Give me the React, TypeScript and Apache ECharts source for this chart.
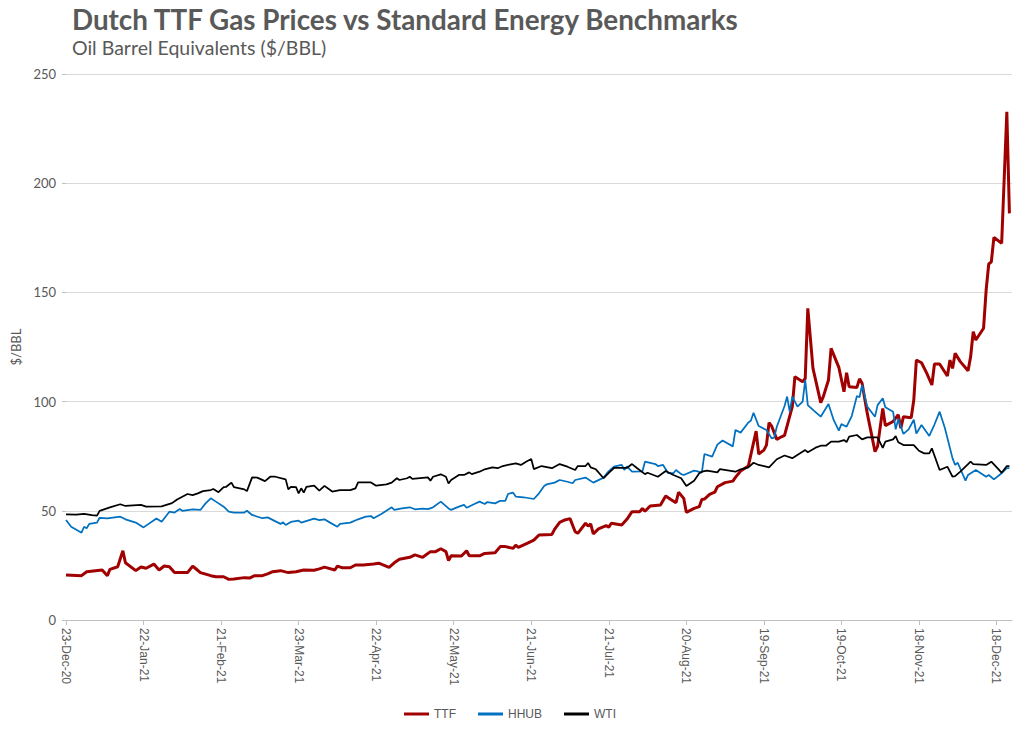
import React, { useEffect, useRef } from "react";
import * as echarts from "echarts";

// Day offsets from 23-Dec-2020, value in $/BBL
const ttf: [number, number][] = [
  [0,20.6],[6,20.3],[8,22.1],[14,22.9],[16,20.3],[17,23.2],[20,24.4],[22,31.7],[23,26.2],[27,22.6],
  [29,24.3],[31,23.7],[34,25.6],[36,22.9],[38,24.7],[40,24.4],[42,21.7],[47,21.7],[49,24.7],[50,23.7],
  [52,21.7],[56,20.3],[58,19.8],[61,19.8],[63,18.6],[65,18.8],[69,19.4],[71,19.2],[73,20.3],[76,20.3],
  [78,21.1],[80,22.1],[83,22.6],[86,21.7],[89,22.1],[92,22.9],[96,22.8],[98,23.4],[100,24.2],[104,22.9],
  [105,24.7],[107,23.9],[110,23.9],[112,25.2],[115,25.2],[119,25.6],[121,26.0],[125,24.1],[127,26.2],[129,27.8],
  [133,28.7],[135,29.8],[138,28.7],[141,31.3],[143,31.3],[145,32.6],[147,31.3],[148,27.2],[149,29.4],[153,29.3],
  [155,31.7],[156,29.4],[160,29.4],[162,30.5],[166,30.8],[168,33.6],[170,33.6],[173,32.8],[174,34.3],[175,33.3],
  [179,35.4],[181,36.6],[183,38.9],[188,39.2],[189,41.5],[191,44.7],[193,45.8],[195,46.4],[197,40.4],[198,39.7],
  [201,44.3],[202,43.0],[203,44.0],[204,39.4],[206,41.7],[209,43.2],[210,42.5],[211,44.3],[215,43.5],[217,46.1],
  [219,49.6],[222,49.6],[223,51.1],[224,49.8],[226,52.2],[230,52.7],[232,56.8],[234,55.2],[236,53.7],[237,58.5],
  [239,55.7],[240,49.3],[243,51.1],[245,51.9],[246,55.2],[247,55.4],[249,57.5],[251,58.5],[252,61.0],[255,62.9],
  [258,63.6],[259,65.3],[261,68.2],[264,70.5],[267,86.5],[268,76.0],[270,77.8],[271,80.1],[272,90.4],[273,88.8],
  [275,82.7],[277,84.0],[278,84.5],[281,97.7],[282,111.4],[285,109.1],[286,110.6],[287,142.7],[289,115.2],[292,99.5],
  [293,102.3],[295,109.9],[296,124.4],[299,115.7],[301,104.5],[302,113.2],[303,106.8],[306,106.5],[307,110.4],[308,108.4],
  [310,94.6],[313,77.1],[314,79.5],[316,96.9],[317,89.0],[320,90.9],[322,94.0],[323,87.8],[324,93.1],[327,92.6],
  [328,100.7],[329,119.0],[331,117.8],[333,113.0],[335,107.6],[336,117.2],[338,117.2],[341,111.7],[342,119.0],[343,115.2],
  [344,122.1],[346,118.3],[349,114.1],[350,120.6],[351,132.0],[352,128.2],[355,133.6],[356,151.1],[357,163.0],[358,164.0],
  [359,175.2],[362,172.5],[364,232.7],[365,186.2],
];

const hhub: [number, number][] = [
  [0,45.8],[2,42.7],[6,40],[7,42.7],[8,42],[9,44],[12,44.6],[13,46.8],[16,46.5],[21,47.3],
  [23,46.1],[27,44.6],[30,42.4],[35,46.5],[37,45],[40,49.6],[42,49.2],[44,50.8],[45,50],[49,50.7],
  [52,50.4],[54,53.4],[56,55.7],[58,54.2],[61,51.9],[63,49.6],[65,49.2],[69,49.2],[70,50],[72,48.1],
  [76,46.6],[78,47],[83,44],[84,44.7],[85,43.5],[87,44.9],[90,45.5],[91,44.6],[96,46.4],[98,45.7],
  [100,46.1],[102,44.7],[105,42.7],[106,44],[110,44.6],[113,46.1],[116,47.3],[118,47.6],[119,46.6],[122,48.5],
  [126,51.6],[127,50.4],[130,51.1],[133,51.6],[135,50.7],[138,51],[140,50.8],[142,51.6],[145,54.2],[148,51.1],
  [149,50.4],[152,51.9],[154,52.7],[155,51.4],[158,53.1],[160,54.2],[162,53.1],[163,54],[166,53.4],[168,54.6],
  [170,54.6],[171,57.7],[173,58.3],[174,56.5],[177,56.2],[181,55.4],[183,58],[185,61.4],[186,62.1],[189,62.9],
  [191,64.1],[194,63.3],[196,62.6],[197,64.1],[201,65.2],[204,62.9],[207,64.6],[208,65.3],[210,68.2],[212,70.2],
  [215,71],[216,68.7],[217,70.3],[219,67.9],[223,68],[224,72.5],[228,71.4],[229,70.5],[231,71],[233,67.2],
  [235,67.2],[236,68.7],[238,66.8],[239,66.4],[243,68.4],[244,68.2],[246,67.5],[247,76],[250,74.8],[252,80.3],
  [254,82.2],[258,79.5],[259,87],[261,85.8],[264,90.4],[265,91.3],[266,94.9],[268,88.8],[271,87],[273,83.2],
  [274,83.5],[275,88.5],[278,98],[279,102.3],[280,95.4],[281,102.3],[283,97.7],[285,100],[286,109.9],[287,98.4],
  [289,96.2],[292,93.1],[295,98.9],[297,91.6],[299,86.7],[300,89.7],[302,88.5],[304,93.4],[306,102.6],[307,102],
  [308,107.6],[310,97.7],[313,93.1],[314,98.4],[316,101.5],[317,97.4],[320,95.4],[321,87.3],[322,92.1],[324,85.2],
  [326,87.3],[328,91.7],[329,85.4],[331,89.3],[334,84.3],[336,89.5],[338,95.4],[340,88],[343,74],[344,71],
  [345,72],[348,63.8],[349,66.4],[352,68.7],[356,65.6],[357,66.4],[359,64.4],[362,67.2],[364,69.5],[365,69.5],
];

const wti: [number, number][] = [
  [0,48.4],[4,48.2],[7,48.6],[10,48.0],[12,47.8],[13,50],[17,51.6],[21,53],[23,52.2],[29,52.7],
  [31,51.9],[37,52],[41,53.5],[43,55.2],[47,57.7],[49,57.2],[51,58],[53,59],[56,59.5],[57,60],
  [59,58.5],[61,60.8],[62,61],[64,62.9],[65,60.8],[69,59.8],[70,59],[72,65.3],[74,65.2],[77,63.6],
  [79,65.6],[81,65.6],[85,64.4],[86,59.8],[87,61],[89,60.8],[90,58],[91,60.3],[92,58.3],[93,61],
  [96,61.5],[98,59.2],[100,61.4],[103,58.8],[106,59.5],[110,59.5],[112,60.3],[113,63],[118,63],[120,61.5],
  [124,62.1],[126,62.9],[128,64.9],[129,64.1],[132,64.9],[133,65.6],[134,64.6],[140,65.3],[141,63.8],[142,65.6],
  [145,66.7],[147,65.6],[148,62.5],[149,64.1],[152,66.4],[154,66.4],[156,67.6],[157,66.8],[160,67.9],[162,69],
  [165,69.9],[167,69.5],[169,70.5],[172,71.3],[174,71.7],[176,71],[178,72.5],[180,73.7],[181,69.1],[184,70.5],
  [188,69.5],[191,71.4],[194,70.2],[197,68.7],[198,70.5],[201,70.5],[202,71.9],[203,69.9],[205,69],[208,64.9],
  [210,67.4],[212,69.6],[217,69.6],[219,71.4],[221,69.5],[224,66.8],[225,67.4],[229,65.6],[232,68.2],[235,66.4],
  [238,64.9],[240,61.4],[243,63.8],[245,67.2],[246,67.9],[248,68.4],[252,67.6],[253,69.1],[259,67.9],[261,69],
  [264,69.9],[266,72],[268,71],[272,69.9],[275,73.6],[278,75.3],[281,74.1],[284,76.3],[286,77.8],[287,76.8],
  [290,78.9],[292,79.8],[294,79.8],[296,81.7],[299,81.7],[301,82.4],[302,81.5],[303,84],[306,84.7],[308,82.7],
  [310,83.6],[314,83.6],[316,78.8],[317,81.7],[320,82.7],[321,84.2],[322,81.4],[324,80.1],[328,80.1],[330,77.5],
  [332,76.3],[334,76.3],[335,78.6],[338,68.7],[341,70.2],[343,65.6],[344,65.9],[346,67.9],[350,72.5],[351,71.4],
  [356,71],[358,72.5],[361,68.7],[362,67.4],[364,70.5],[365,70.5],
];

const xTicks = [0, 30, 60, 90, 120, 150, 180, 210, 240, 270, 300, 330, 360];
const MONTHS = ["Jan","Feb","Mar","Apr","May","Jun","Jul","Aug","Sep","Oct","Nov","Dec"];
const BASE = Date.UTC(2020, 11, 23);

function dayLabel(v: number): string {
  const d = new Date(BASE + v * 86400000);
  return `${d.getUTCDate()}-${MONTHS[d.getUTCMonth()]}-${String(d.getUTCFullYear()).slice(2)}`;
}

export default function App() {
  const ref = useRef<HTMLDivElement>(null);
  useEffect(() => {
    document.body.style.margin = "0";
    if (!ref.current) return;
    const chart = echarts.init(ref.current, undefined, { renderer: "svg" });
    const grey = "#595959";
    chart.setOption({
      animation: false,
      backgroundColor: "#ffffff",
      title: {
        text: "Dutch TTF Gas Prices vs Standard Energy Benchmarks",
        subtext: "Oil Barrel Equivalents ($/BBL)",
        left: 67,
        top: 0,
        itemGap: 4,
        textStyle: { fontFamily: "Lato", fontWeight: "bold", fontSize: 27.8, color: grey },
        subtextStyle: { fontFamily: "Lato", fontSize: 19.5, color: grey },
      },
      legend: {
        left: "center",
        top: 703,
        icon: "rect",
        itemWidth: 25,
        itemHeight: 3,
        itemGap: 22,
        textStyle: { fontFamily: "Liberation Sans Narrow, Liberation Sans", fontSize: 12, color: grey },
        data: ["TTF", "HHUB", "WTI"],
      },
      grid: { left: 66, right: 8, top: 74, bottom: 109 },
      xAxis: {
        type: "value",
        min: 0,
        max: 366,
        interval: 30,
        axisLine: { show: true, lineStyle: { color: "#bfbfbf" } },
        axisTick: { show: true, length: 5, lineStyle: { color: "#bfbfbf" }, customValues: xTicks },
        splitLine: { show: false },
        axisLabel: {
          customValues: xTicks,
          rotate: -90,
          formatter: (v: number) => dayLabel(v),
          fontFamily: "Liberation Sans",
          fontSize: 12,
          color: grey,
          margin: 8,
        },
      },
      yAxis: {
        type: "value",
        min: 0,
        max: 250,
        interval: 50,
        name: "$/BBL",
        nameLocation: "middle",
        nameGap: 36,
        nameRotate: 90,
        nameTextStyle: { fontFamily: "Lato", fontSize: 13, color: grey },
        axisLine: { show: false },
        axisTick: { show: true, length: 4, lineStyle: { color: "#bfbfbf" } },
        splitLine: { show: true, lineStyle: { color: "#d9d9d9", width: 1 } },
        axisLabel: { fontFamily: "Lato", fontSize: 13, color: grey, margin: 10 },
      },
      series: [
        {
          name: "TTF",
          type: "line",
          data: ttf,
          symbol: "none",
          lineStyle: { color: "#A00000", width: 3 },
          itemStyle: { color: "#A00000" },
        },
        {
          name: "HHUB",
          type: "line",
          data: hhub,
          symbol: "none",
          lineStyle: { color: "#0070C0", width: 1.75 },
          itemStyle: { color: "#0070C0" },
        },
        {
          name: "WTI",
          type: "line",
          data: wti,
          symbol: "none",
          lineStyle: { color: "#000000", width: 1.75 },
          itemStyle: { color: "#000000" },
        },
      ],
    });
    return () => chart.dispose();
  }, []);
  return <div ref={ref} style={{ width: 1020, height: 729 }} />;
}
